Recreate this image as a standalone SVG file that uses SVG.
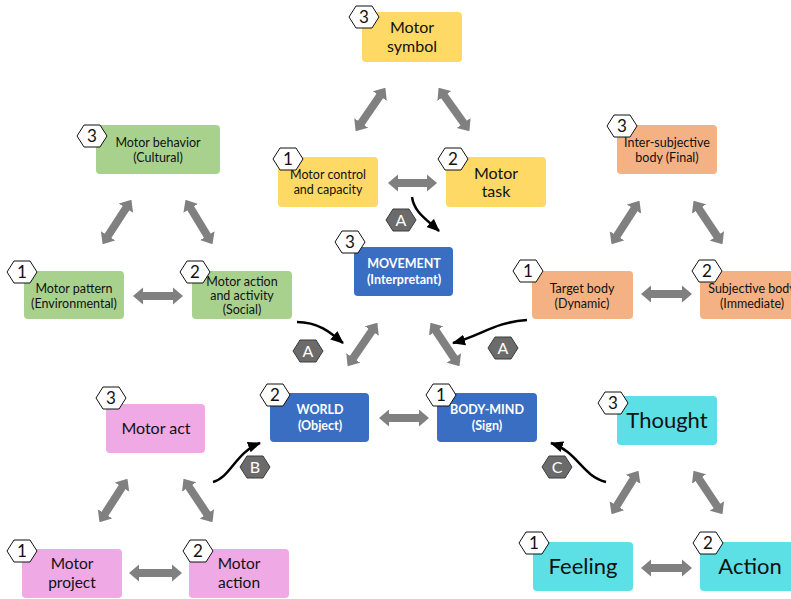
<svg xmlns="http://www.w3.org/2000/svg" width="791" height="599" viewBox="0 0 791 599">
<defs>
<style>
text{font-family:Lato,"Open Sans","Liberation Sans",sans-serif;fill:#111;text-anchor:middle}
.y{fill:#FFD966}.g{fill:#A9D18E}.o{fill:#F4B183}.b{fill:#3A6EC2}.p{fill:#EFA9E4}.c{fill:#5CDFE5}
.w{fill:#fff;font-weight:bold}
.hx{fill:#fff;stroke:#111;stroke-width:1}
.hl{fill:#6b6b6b;stroke:#3c3c3c;stroke-width:1}
.num{font-size:17px}
.let{font-size:16px;fill:#fff}
.da{stroke:#808080;stroke-width:8;fill:none;marker-start:url(#dh);marker-end:url(#dh)}
.cv{stroke:#000;stroke-width:2.5;fill:none;marker-end:url(#ah)}
</style>
<marker id="dh" viewBox="0 -9 10 18" refX="1" refY="0" markerWidth="10" markerHeight="18" markerUnits="userSpaceOnUse" orient="auto-start-reverse"><path d="M0,-8.5 L10,0 L0,8.5 Z" fill="#808080"/></marker>
<marker id="ah" viewBox="0 -6 13 12" refX="12" refY="0" markerWidth="13" markerHeight="12" markerUnits="userSpaceOnUse" orient="auto"><path d="M0,-5.5 L13,0 L0,5.5 Z" fill="#000"/></marker>
<polygon id="hex" points="-15,0 -8,-11 8,-11 15,0 8,11 -8,11"/>
</defs>

<g id="connectors">
<line class="da" x1="360.7" y1="123.8" x2="380.3" y2="95.2"/>
<line class="da" x1="443.8" y1="95.2" x2="464.2" y2="123.8"/>
<line class="da" x1="397" y1="183" x2="428" y2="183"/>
<line class="da" x1="107.5" y1="236.6" x2="126.5" y2="207.4"/>
<line class="da" x1="190.2" y1="207.5" x2="207.8" y2="236.5"/>
<line class="da" x1="142" y1="296" x2="174" y2="296"/>
<line class="da" x1="616.4" y1="236.6" x2="634.6" y2="208.4"/>
<line class="da" x1="698.5" y1="208.3" x2="717.5" y2="236.7"/>
<line class="da" x1="650" y1="294" x2="683" y2="294"/>
<line class="da" x1="352.7" y1="358.8" x2="372.3" y2="330.2"/>
<line class="da" x1="435.5" y1="330.3" x2="454.5" y2="358.7"/>
<line class="da" x1="388" y1="418" x2="420" y2="418"/>
<line class="da" x1="104.4" y1="514.6" x2="122.6" y2="486.4"/>
<line class="da" x1="188.5" y1="486.3" x2="207.5" y2="514.7"/>
<line class="da" x1="138" y1="573" x2="173" y2="573"/>
<line class="da" x1="616.3" y1="506.5" x2="633.7" y2="478.5"/>
<line class="da" x1="698.5" y1="478.3" x2="717.5" y2="506.7"/>
<line class="da" x1="650" y1="568" x2="683" y2="568"/>
<path class="cv" d="M412,197 C414,212 426,219 439,231"/>
<path class="cv" d="M297,322 C318,322 330,332 343,343"/>
<path class="cv" d="M527,320 C495,322 480,336 453,343"/>
<path class="cv" d="M213,482 C230,478 236,452 260,443"/>
<path class="cv" d="M606,482 C582,476 578,452 551,443"/>
<use href="#hex" class="hl" x="401" y="220"/><text class="let" x="401" y="226">A</text>
<use href="#hex" class="hl" x="308" y="351"/><text class="let" x="308" y="357">A</text>
<use href="#hex" class="hl" x="503" y="348"/><text class="let" x="503" y="354">A</text>
<use href="#hex" class="hl" x="255" y="467"/><text class="let" x="255" y="473">B</text>
<use href="#hex" class="hl" x="557" y="467"/><text class="let" x="557" y="473">C</text>
</g>

<g id="motor-symbol"><rect class="y" x="362" y="12" width="100" height="50" rx="4"/><text x="412" y="33" font-size="16">Motor</text><text x="412" y="52" font-size="16">symbol</text><use href="#hex" class="hx" x="364" y="17"/><text class="num" x="364" y="23">3</text></g>
<g id="motor-control"><rect class="y" x="278" y="157" width="100" height="50" rx="4"/><text x="328" y="179" font-size="12.5">Motor control</text><text x="328" y="194" font-size="12.5">and capacity</text><use href="#hex" class="hx" x="288" y="159"/><text class="num" x="288" y="165">1</text></g>
<g id="motor-task"><rect class="y" x="446" y="157" width="100" height="50" rx="4"/><text x="496" y="179" font-size="16">Motor</text><text x="496" y="197" font-size="16">task</text><use href="#hex" class="hx" x="453" y="159"/><text class="num" x="453" y="165">2</text></g>

<g id="motor-behavior"><rect class="g" x="96" y="125" width="124" height="49" rx="4"/><text x="158" y="147" font-size="12.5">Motor behavior</text><text x="158" y="162" font-size="12.5">(Cultural)</text><use href="#hex" class="hx" x="92" y="136"/><text class="num" x="92" y="142">3</text></g>
<g id="motor-pattern"><rect class="g" x="24" y="271" width="100" height="48" rx="4"/><text x="74" y="293" font-size="12.5">Motor pattern</text><text x="74" y="308" font-size="12.5">(Environmental)</text><use href="#hex" class="hx" x="22" y="272"/><text class="num" x="22" y="278">1</text></g>
<g id="motor-action-activity"><rect class="g" x="192" y="271" width="100" height="48" rx="4"/><text x="242" y="286" font-size="12.5">Motor action</text><text x="242" y="300" font-size="12.5">and activity</text><text x="242" y="314" font-size="12.5">(Social)</text><use href="#hex" class="hx" x="195" y="272"/><text class="num" x="195" y="278">2</text></g>

<g id="inter-subjective"><rect class="o" x="617" y="125" width="100" height="49" rx="4"/><text x="667" y="147" font-size="12.5">Inter-subjective</text><text x="667" y="162" font-size="12.5">body (Final)</text><use href="#hex" class="hx" x="622" y="126"/><text class="num" x="622" y="132">3</text></g>
<g id="target-body"><rect class="o" x="532" y="271" width="101" height="48" rx="4"/><text x="582" y="293" font-size="12.5">Target body</text><text x="582" y="308" font-size="12.5">(Dynamic)</text><use href="#hex" class="hx" x="528" y="271"/><text class="num" x="528" y="277">1</text></g>
<g id="subjective-body"><rect class="o" x="700" y="271" width="100" height="48" rx="4"/><text x="752" y="293" font-size="12.5">Subjective body</text><text x="752" y="308" font-size="12.5">(Immediate)</text><use href="#hex" class="hx" x="707" y="271"/><text class="num" x="707" y="277">2</text></g>

<g id="movement"><rect class="b" x="354" y="247" width="99" height="49" rx="4"/><text class="w" x="404" y="268" font-size="12.5">MOVEMENT</text><text class="w" x="404" y="284" font-size="12.5">(Interpretant)</text><use href="#hex" class="hx" x="350" y="242"/><text class="num" x="350" y="248">3</text></g>
<g id="world"><rect class="b" x="270" y="393" width="99" height="49" rx="4"/><text class="w" x="320" y="414" font-size="12.5">WORLD</text><text class="w" x="320" y="430" font-size="12.5">(Object)</text><use href="#hex" class="hx" x="275" y="395"/><text class="num" x="275" y="401">2</text></g>
<g id="body-mind"><rect class="b" x="437" y="393" width="100" height="49" rx="4"/><text class="w" x="487" y="414" font-size="12.5">BODY-MIND</text><text class="w" x="487" y="430" font-size="12.5">(Sign)</text><use href="#hex" class="hx" x="441" y="395"/><text class="num" x="441" y="401">1</text></g>

<g id="motor-act"><rect class="p" x="106" y="404" width="99" height="49" rx="4"/><text x="156" y="434" font-size="16">Motor act</text><use href="#hex" class="hx" x="111" y="398"/><text class="num" x="111" y="404">3</text></g>
<g id="motor-project"><rect class="p" x="22" y="549" width="100" height="49" rx="4"/><text x="72" y="569" font-size="15.5">Motor</text><text x="72" y="588" font-size="15.5">project</text><use href="#hex" class="hx" x="22" y="551"/><text class="num" x="22" y="557">1</text></g>
<g id="motor-action"><rect class="p" x="189" y="549" width="100" height="49" rx="4"/><text x="239" y="569" font-size="15.5">Motor</text><text x="239" y="588" font-size="15.5">action</text><use href="#hex" class="hx" x="198" y="551"/><text class="num" x="198" y="557">2</text></g>

<g id="thought"><rect class="c" x="617" y="396" width="100" height="49" rx="4"/><text x="667" y="428" font-size="22">Thought</text><use href="#hex" class="hx" x="613" y="403"/><text class="num" x="613" y="409">3</text></g>
<g id="feeling"><rect class="c" x="533" y="542" width="100" height="49" rx="4"/><text x="583" y="574" font-size="22">Feeling</text><use href="#hex" class="hx" x="534" y="543"/><text class="num" x="534" y="549">1</text></g>
<g id="action"><rect class="c" x="700" y="542" width="100" height="49" rx="4"/><text x="750" y="574" font-size="22">Action</text><use href="#hex" class="hx" x="708" y="543"/><text class="num" x="708" y="549">2</text></g>
</svg>
